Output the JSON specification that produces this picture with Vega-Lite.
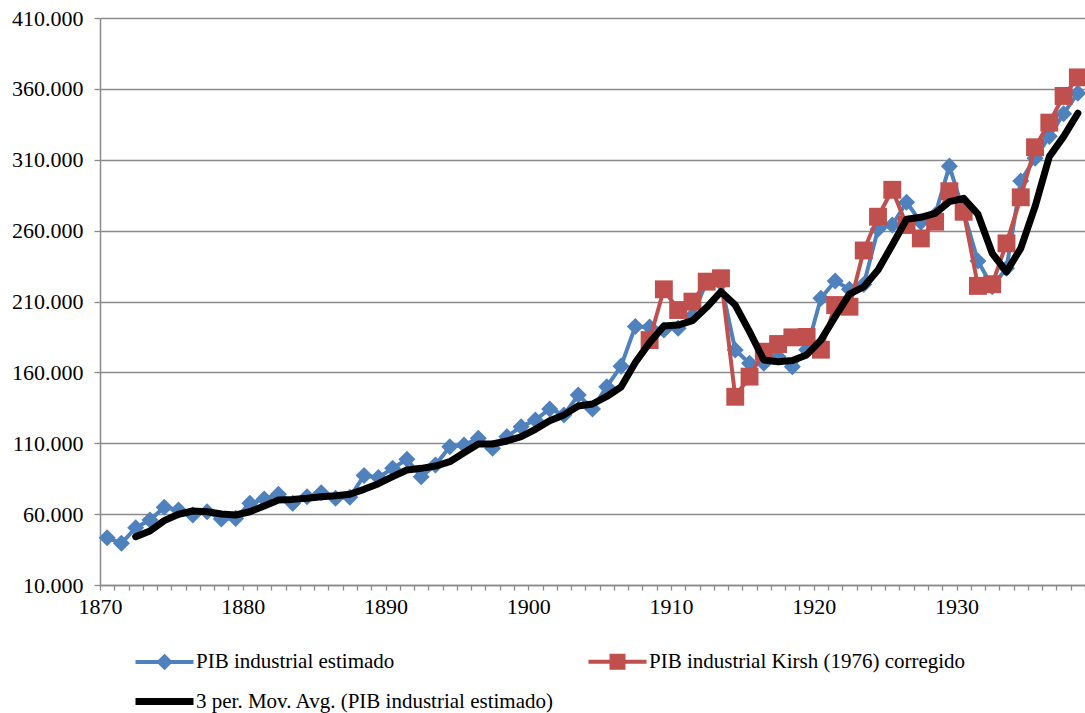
{
  "$schema": "https://vega.github.io/schema/vega-lite/v6.json",
  "width": 985,
  "height": 567,
  "autosize": {"type": "none"},
  "padding": {"left": 100, "top": 18, "right": 0, "bottom": 128},
  "background": "white",
  "config": {
    "view": {"stroke": null},
    "font": "Liberation Serif"
  },
  "datasets": {
    "series": [
      {"ano": 1870, "serie": "estimado", "valor": 43400},
      {"ano": 1871, "serie": "estimado", "valor": 39400},
      {"ano": 1872, "serie": "estimado", "valor": 50400},
      {"ano": 1873, "serie": "estimado", "valor": 55900},
      {"ano": 1874, "serie": "estimado", "valor": 64800},
      {"ano": 1875, "serie": "estimado", "valor": 62900},
      {"ano": 1876, "serie": "estimado", "valor": 59400},
      {"ano": 1877, "serie": "estimado", "valor": 61700},
      {"ano": 1878, "serie": "estimado", "valor": 56600},
      {"ano": 1879, "serie": "estimado", "valor": 57000},
      {"ano": 1880, "serie": "estimado", "valor": 67600},
      {"ano": 1881, "serie": "estimado", "valor": 70700},
      {"ano": 1882, "serie": "estimado", "valor": 74000},
      {"ano": 1883, "serie": "estimado", "valor": 67600},
      {"ano": 1884, "serie": "estimado", "valor": 72300},
      {"ano": 1885, "serie": "estimado", "valor": 75100},
      {"ano": 1886, "serie": "estimado", "valor": 71200},
      {"ano": 1887, "serie": "estimado", "valor": 71900},
      {"ano": 1888, "serie": "estimado", "valor": 87200},
      {"ano": 1889, "serie": "estimado", "valor": 85800},
      {"ano": 1890, "serie": "estimado", "valor": 92300},
      {"ano": 1891, "serie": "estimado", "valor": 98700},
      {"ano": 1892, "serie": "estimado", "valor": 86400},
      {"ano": 1893, "serie": "estimado", "valor": 94700},
      {"ano": 1894, "serie": "estimado", "valor": 107600},
      {"ano": 1895, "serie": "estimado", "valor": 108800},
      {"ano": 1896, "serie": "estimado", "valor": 113500},
      {"ano": 1897, "serie": "estimado", "valor": 106400},
      {"ano": 1898, "serie": "estimado", "valor": 114600},
      {"ano": 1899, "serie": "estimado", "valor": 121700},
      {"ano": 1900, "serie": "estimado", "valor": 126400},
      {"ano": 1901, "serie": "estimado", "valor": 134200},
      {"ano": 1902, "serie": "estimado", "valor": 130000},
      {"ano": 1903, "serie": "estimado", "valor": 144000},
      {"ano": 1904, "serie": "estimado", "valor": 134200},
      {"ano": 1905, "serie": "estimado", "valor": 149900},
      {"ano": 1906, "serie": "estimado", "valor": 164400},
      {"ano": 1907, "serie": "estimado", "valor": 192400},
      {"ano": 1908, "serie": "estimado", "valor": 192000},
      {"ano": 1909, "serie": "estimado", "valor": 189900},
      {"ano": 1910, "serie": "estimado", "valor": 191100},
      {"ano": 1911, "serie": "estimado", "valor": 200000},
      {"ano": 1912, "serie": "estimado", "valor": 224000},
      {"ano": 1913, "serie": "estimado", "valor": 222800},
      {"ano": 1914, "serie": "estimado", "valor": 175800},
      {"ano": 1915, "serie": "estimado", "valor": 166400},
      {"ano": 1916, "serie": "estimado", "valor": 166400},
      {"ano": 1917, "serie": "estimado", "valor": 171100},
      {"ano": 1918, "serie": "estimado", "valor": 164000},
      {"ano": 1919, "serie": "estimado", "valor": 176000},
      {"ano": 1920, "serie": "estimado", "valor": 212300},
      {"ano": 1921, "serie": "estimado", "valor": 224500},
      {"ano": 1922, "serie": "estimado", "valor": 218600},
      {"ano": 1923, "serie": "estimado", "valor": 222000},
      {"ano": 1924, "serie": "estimado", "valor": 261000},
      {"ano": 1925, "serie": "estimado", "valor": 264000},
      {"ano": 1926, "serie": "estimado", "valor": 280000},
      {"ano": 1927, "serie": "estimado", "valor": 266000},
      {"ano": 1928, "serie": "estimado", "valor": 271000},
      {"ano": 1929, "serie": "estimado", "valor": 305500},
      {"ano": 1930, "serie": "estimado", "valor": 273000},
      {"ano": 1931, "serie": "estimado", "valor": 238500},
      {"ano": 1932, "serie": "estimado", "valor": 220500},
      {"ano": 1933, "serie": "estimado", "valor": 233500},
      {"ano": 1934, "serie": "estimado", "valor": 295000},
      {"ano": 1935, "serie": "estimado", "valor": 311000},
      {"ano": 1936, "serie": "estimado", "valor": 326500},
      {"ano": 1937, "serie": "estimado", "valor": 342500},
      {"ano": 1938, "serie": "estimado", "valor": 357000},

      {"ano": 1908, "serie": "kirsh", "valor": 182800},
      {"ano": 1909, "serie": "kirsh", "valor": 218600},
      {"ano": 1910, "serie": "kirsh", "valor": 204000},
      {"ano": 1911, "serie": "kirsh", "valor": 209900},
      {"ano": 1912, "serie": "kirsh", "valor": 224000},
      {"ano": 1913, "serie": "kirsh", "valor": 226400},
      {"ano": 1914, "serie": "kirsh", "valor": 142800},
      {"ano": 1915, "serie": "kirsh", "valor": 157000},
      {"ano": 1916, "serie": "kirsh", "valor": 174600},
      {"ano": 1917, "serie": "kirsh", "valor": 180000},
      {"ano": 1918, "serie": "kirsh", "valor": 184700},
      {"ano": 1919, "serie": "kirsh", "valor": 185000},
      {"ano": 1920, "serie": "kirsh", "valor": 176000},
      {"ano": 1921, "serie": "kirsh", "valor": 207500},
      {"ano": 1922, "serie": "kirsh", "valor": 206300},
      {"ano": 1923, "serie": "kirsh", "valor": 246000},
      {"ano": 1924, "serie": "kirsh", "valor": 269800},
      {"ano": 1925, "serie": "kirsh", "valor": 288800},
      {"ano": 1926, "serie": "kirsh", "valor": 264000},
      {"ano": 1927, "serie": "kirsh", "valor": 254500},
      {"ano": 1928, "serie": "kirsh", "valor": 266300},
      {"ano": 1929, "serie": "kirsh", "valor": 287800},
      {"ano": 1930, "serie": "kirsh", "valor": 273300},
      {"ano": 1931, "serie": "kirsh", "valor": 221000},
      {"ano": 1932, "serie": "kirsh", "valor": 222200},
      {"ano": 1933, "serie": "kirsh", "valor": 251000},
      {"ano": 1934, "serie": "kirsh", "valor": 283500},
      {"ano": 1935, "serie": "kirsh", "valor": 318800},
      {"ano": 1936, "serie": "kirsh", "valor": 336200},
      {"ano": 1937, "serie": "kirsh", "valor": 355000},
      {"ano": 1938, "serie": "kirsh", "valor": 368100},

      {"ano": 1872, "serie": "media", "valor": 44100},
      {"ano": 1873, "serie": "media", "valor": 48100},
      {"ano": 1874, "serie": "media", "valor": 55400},
      {"ano": 1875, "serie": "media", "valor": 59900},
      {"ano": 1876, "serie": "media", "valor": 62200},
      {"ano": 1877, "serie": "media", "valor": 61700},
      {"ano": 1878, "serie": "media", "valor": 60100},
      {"ano": 1879, "serie": "media", "valor": 59400},
      {"ano": 1880, "serie": "media", "valor": 61700},
      {"ano": 1881, "serie": "media", "valor": 65700},
      {"ano": 1882, "serie": "media", "valor": 70000},
      {"ano": 1883, "serie": "media", "valor": 70400},
      {"ano": 1884, "serie": "media", "valor": 71200},
      {"ano": 1885, "serie": "media", "valor": 72300},
      {"ano": 1886, "serie": "media", "valor": 73000},
      {"ano": 1887, "serie": "media", "valor": 74000},
      {"ano": 1888, "serie": "media", "valor": 77500},
      {"ano": 1889, "serie": "media", "valor": 81500},
      {"ano": 1890, "serie": "media", "valor": 86400},
      {"ano": 1891, "serie": "media", "valor": 91100},
      {"ano": 1892, "serie": "media", "valor": 92300},
      {"ano": 1893, "serie": "media", "valor": 93900},
      {"ano": 1894, "serie": "media", "valor": 97000},
      {"ano": 1895, "serie": "media", "valor": 103300},
      {"ano": 1896, "serie": "media", "valor": 109500},
      {"ano": 1897, "serie": "media", "valor": 109500},
      {"ano": 1898, "serie": "media", "valor": 111600},
      {"ano": 1899, "serie": "media", "valor": 114600},
      {"ano": 1900, "serie": "media", "valor": 119800},
      {"ano": 1901, "serie": "media", "valor": 125900},
      {"ano": 1902, "serie": "media", "valor": 130000},
      {"ano": 1903, "serie": "media", "valor": 136300},
      {"ano": 1904, "serie": "media", "valor": 137700},
      {"ano": 1905, "serie": "media", "valor": 143000},
      {"ano": 1906, "serie": "media", "valor": 149700},
      {"ano": 1907, "serie": "media", "valor": 167000},
      {"ano": 1908, "serie": "media", "valor": 181000},
      {"ano": 1909, "serie": "media", "valor": 192700},
      {"ano": 1910, "serie": "media", "valor": 193400},
      {"ano": 1911, "serie": "media", "valor": 196500},
      {"ano": 1912, "serie": "media", "valor": 205900},
      {"ano": 1913, "serie": "media", "valor": 216900},
      {"ano": 1914, "serie": "media", "valor": 207500},
      {"ano": 1915, "serie": "media", "valor": 188700},
      {"ano": 1916, "serie": "media", "valor": 168700},
      {"ano": 1917, "serie": "media", "valor": 167500},
      {"ano": 1918, "serie": "media", "valor": 168300},
      {"ano": 1919, "serie": "media", "valor": 172300},
      {"ano": 1920, "serie": "media", "valor": 182800},
      {"ano": 1921, "serie": "media", "valor": 199300},
      {"ano": 1922, "serie": "media", "valor": 215200},
      {"ano": 1923, "serie": "media", "valor": 220400},
      {"ano": 1924, "serie": "media", "valor": 232200},
      {"ano": 1925, "serie": "media", "valor": 249900},
      {"ano": 1926, "serie": "media", "valor": 268000},
      {"ano": 1927, "serie": "media", "valor": 269400},
      {"ano": 1928, "serie": "media", "valor": 272200},
      {"ano": 1929, "serie": "media", "valor": 280400},
      {"ano": 1930, "serie": "media", "valor": 282800},
      {"ano": 1931, "serie": "media", "valor": 271600},
      {"ano": 1932, "serie": "media", "valor": 244000},
      {"ano": 1933, "serie": "media", "valor": 231000},
      {"ano": 1934, "serie": "media", "valor": 247500},
      {"ano": 1935, "serie": "media", "valor": 276900},
      {"ano": 1936, "serie": "media", "valor": 312200},
      {"ano": 1937, "serie": "media", "valor": 326300},
      {"ano": 1938, "serie": "media", "valor": 342800}
    ]
  },
  "data": {"name": "series"},
  "encoding": {
    "x": {
      "field": "ano",
      "type": "quantitative",
      "scale": {"domain": [1869.5, 1938.5], "nice": false, "zero": false},
      "axis": {
        "title": null,
        "values": [1869.5, 1870.5, 1871.5, 1872.5, 1873.5, 1874.5, 1875.5, 1876.5, 1877.5, 1878.5, 1879.5, 1880.5, 1881.5, 1882.5, 1883.5, 1884.5, 1885.5, 1886.5, 1887.5, 1888.5, 1889.5, 1890.5, 1891.5, 1892.5, 1893.5, 1894.5, 1895.5, 1896.5, 1897.5, 1898.5, 1899.5, 1900.5, 1901.5, 1902.5, 1903.5, 1904.5, 1905.5, 1906.5, 1907.5, 1908.5, 1909.5, 1910.5, 1911.5, 1912.5, 1913.5, 1914.5, 1915.5, 1916.5, 1917.5, 1918.5, 1919.5, 1920.5, 1921.5, 1922.5, 1923.5, 1924.5, 1925.5, 1926.5, 1927.5, 1928.5, 1929.5, 1930.5, 1931.5, 1932.5, 1933.5, 1934.5, 1935.5, 1936.5, 1937.5, 1938.5],
        "labelExpr": "((datum.value + 0.5) % 10 === 0) ? ('' + (datum.value + 0.5)) : ''",
        "labelFont": "Liberation Serif",
        "labelFontSize": 22,
        "labelColor": "#000000",
        "labelDx": 7,
        "labelOverlap": false,
        "labelFlush": false,
        "labelPadding": 6,
        "grid": false,
        "ticks": true,
        "tickSize": 5,
        "tickColor": "#8a8a8a",
        "tickWidth": 1.3,
        "domainColor": "#8a8a8a",
        "domainWidth": 1.5
      }
    },
    "y": {
      "field": "valor",
      "type": "quantitative",
      "scale": {"domain": [10000, 410000], "nice": false, "zero": false},
      "axis": {
        "title": null,
        "values": [10000, 60000, 110000, 160000, 210000, 260000, 310000, 360000, 410000],
        "labelExpr": "replace(format(datum.value, ','), ',', '.')",
        "labelFont": "Liberation Serif",
        "labelFontSize": 22,
        "labelColor": "#000000",
        "labelPadding": 11,
        "grid": true,
        "gridColor": "#8a8a8a",
        "gridWidth": 1.5,
        "tickSize": 6,
        "tickColor": "#8a8a8a",
        "tickWidth": 1.3,
        "domainColor": "#8a8a8a",
        "domainWidth": 1.5
      }
    },
    "color": {
      "field": "serie",
      "type": "nominal",
      "scale": {"domain": ["estimado", "kirsh", "media"], "range": ["#4F81BD", "#C0504D", "#000000"]},
      "legend": {
        "orient": "none",
        "direction": "horizontal",
        "legendX": 54,
        "legendY": 633,
        "title": null,
        "columns": 2,
        "padding": 0,
        "labelFont": "Liberation Serif",
        "labelFontSize": 21,
        "labelColor": "#000000",
        "labelLimit": 600,
        "labelOffset": 21,
        "symbolSize": 400,
        "rowPadding": 11,
        "columnPadding": 25,
        "labelExpr": "datum.value === 'estimado' ? 'PIB industrial estimado' : datum.value === 'kirsh' ? 'PIB industrial Kirsh (1976) corregido' : '3 per. Mov. Avg. (PIB industrial estimado)'",
        "encode": {
          "symbols": {
            "update": {
              "shape": {"signal": "datum.value === 'estimado' ? 'M-2.9,0H2.9M0,-0.55L0.55,0L0,0.55L-0.55,0Z' : datum.value === 'kirsh' ? 'M-2.9,0H2.9M-0.6,-0.6H0.6V0.6H-0.6Z' : 'M-2.9,0H2.9'"},
              "fill": {"signal": "datum.value === 'estimado' ? '#4F81BD' : datum.value === 'kirsh' ? '#C0504D' : 'transparent'"},
              "stroke": {"signal": "datum.value === 'estimado' ? '#4F81BD' : datum.value === 'kirsh' ? '#C0504D' : '#000000'"},
              "strokeWidth": {"signal": "datum.value === 'media' ? 7 : 4"},
              "opacity": {"value": 1}
            }
          }
        }
      }
    }
  },
  "layer": [
    {
      "transform": [{"filter": "datum.serie === 'estimado'"}],
      "mark": {"type": "line", "strokeWidth": 4, "strokeJoin": "round"}
    },
    {
      "transform": [{"filter": "datum.serie === 'estimado'"}],
      "mark": {"type": "point", "shape": "diamond", "filled": true, "size": 290, "opacity": 1}
    },
    {
      "transform": [{"filter": "datum.serie === 'kirsh'"}],
      "mark": {"type": "line", "strokeWidth": 4, "strokeJoin": "round"}
    },
    {
      "transform": [{"filter": "datum.serie === 'kirsh'"}],
      "mark": {"type": "point", "shape": "square", "filled": true, "size": 320, "opacity": 1}
    },
    {
      "transform": [{"filter": "datum.serie === 'media'"}],
      "mark": {"type": "line", "strokeWidth": 7, "strokeJoin": "round", "strokeCap": "round"}
    }
  ]
}
